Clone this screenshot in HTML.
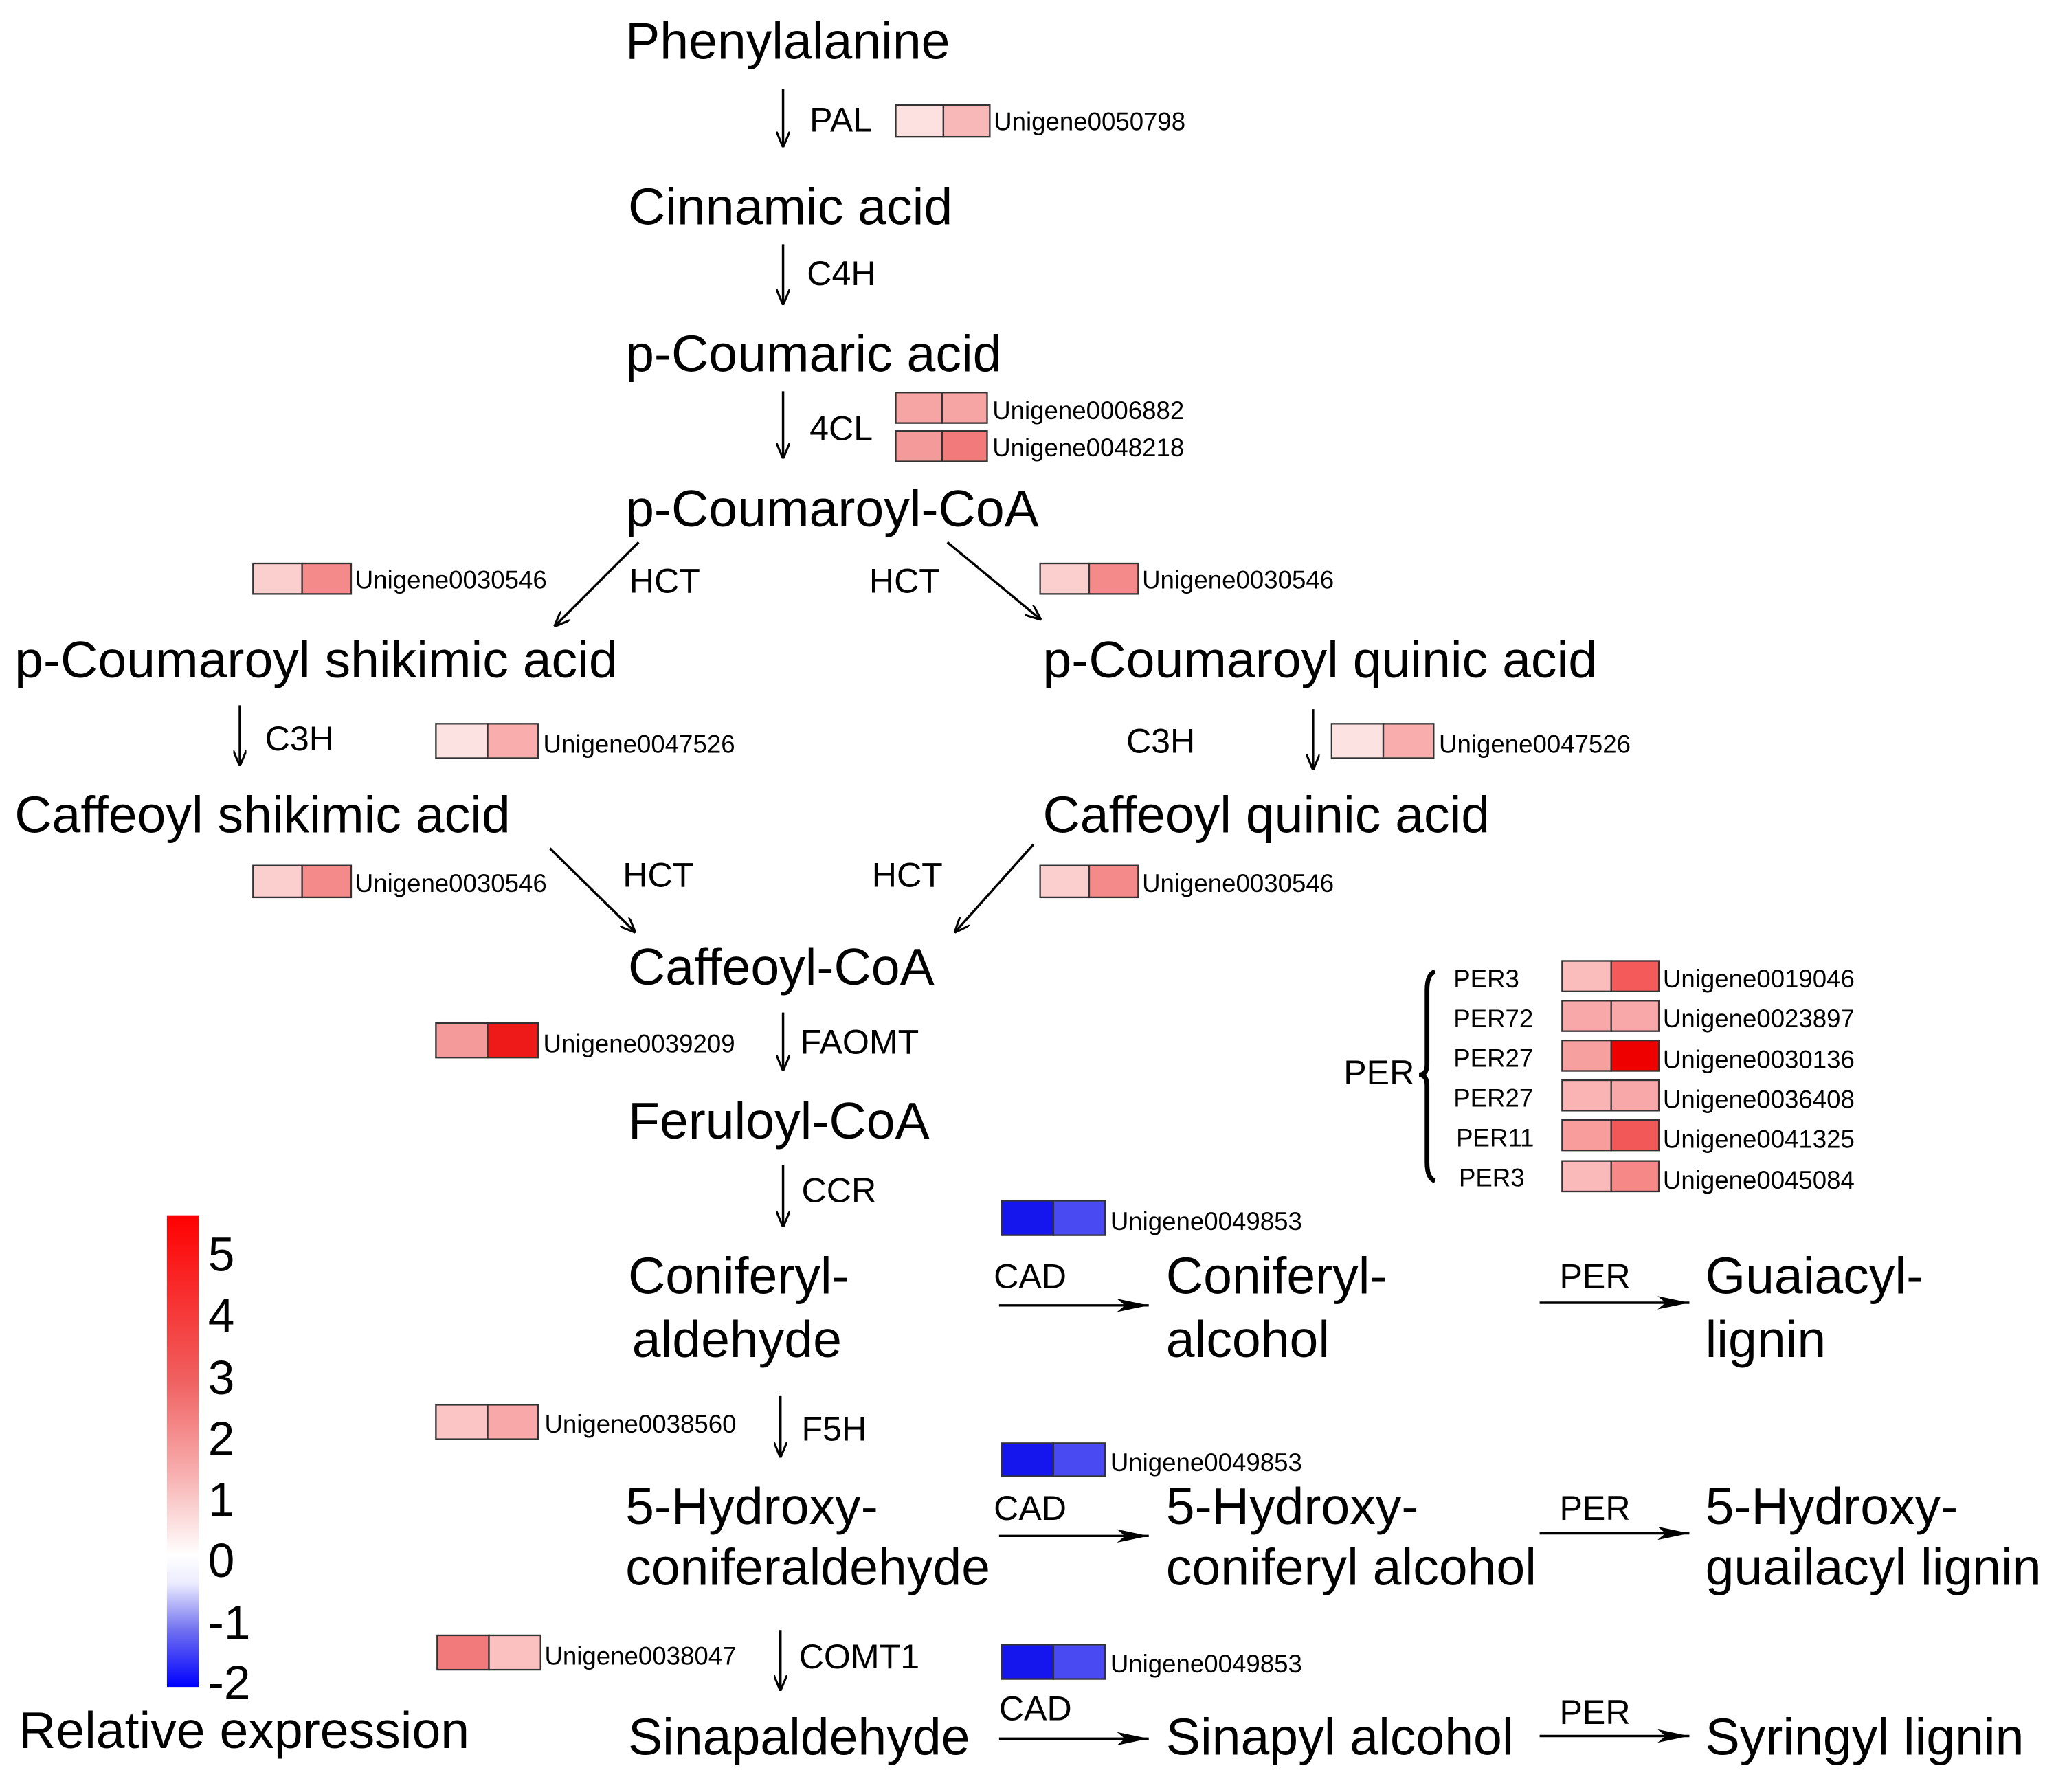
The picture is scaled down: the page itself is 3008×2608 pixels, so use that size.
<!DOCTYPE html>
<html><head><meta charset="utf-8"><style>html,body{margin:0;padding:0;background:#fff}svg{display:block}</style></head><body>
<svg width="3008" height="2608" viewBox="0 0 1560 1352" xmlns="http://www.w3.org/2000/svg" font-family="Liberation Sans, Arial, sans-serif">
<defs>
<marker id="a" viewBox="0 0 12 10" refX="11" refY="5" markerWidth="12" markerHeight="10" markerUnits="userSpaceOnUse" orient="auto"><path d="M0,0 L12,5 L0,10" fill="none" stroke="#000" stroke-width="1.6"/></marker>
<marker id="h" viewBox="0 0 24 10" refX="24" refY="5" markerWidth="24" markerHeight="10" markerUnits="userSpaceOnUse" orient="auto"><path d="M0,0 L24,5 L0,10 L6,5 Z" fill="#000"/></marker>
<linearGradient id="g" x1="0" y1="0" x2="0" y2="1">
<stop offset="0" stop-color="#ff0000"/><stop offset="0.35" stop-color="#f06060"/><stop offset="0.55" stop-color="#f8b0b0"/><stop offset="0.72" stop-color="#ffffff"/><stop offset="0.78" stop-color="#ececff"/><stop offset="0.88" stop-color="#7070f0"/><stop offset="1" stop-color="#0000ff"/></linearGradient>
</defs>
<g transform="translate(-3,-3)">
<g font-size="39" fill="#000">
<text x="475" y="47">Phenylalanine</text>
<text x="477" y="172">Cinnamic acid</text>
<text x="475" y="283">p-Coumaric acid</text>
<text x="475" y="400">p-Coumaroyl-CoA</text>
<text x="14" y="514">p-Coumaroyl shikimic acid</text>
<text x="790" y="514">p-Coumaroyl quinic acid</text>
<text x="14" y="631">Caffeoyl shikimic acid</text>
<text x="790" y="631">Caffeoyl quinic acid</text>
<text x="477" y="746">Caffeoyl-CoA</text>
<text x="477" y="862">Feruloyl-CoA</text>
<text x="477" y="979">Coniferyl-</text><text x="480" y="1027">aldehyde</text>
<text x="883" y="979">Coniferyl-</text><text x="883" y="1027">alcohol</text>
<text x="1290" y="979">Guaiacyl-</text><text x="1290" y="1027">lignin</text>
<text x="475" y="1153">5-Hydroxy-</text><text x="475" y="1199">coniferaldehyde</text>
<text x="883" y="1153">5-Hydroxy-</text><text x="883" y="1199">coniferyl alcohol</text>
<text x="1290" y="1153">5-Hydroxy-</text><text x="1290" y="1199">guailacyl lignin</text>
<text x="477" y="1327">Sinapaldehyde</text>
<text x="883" y="1327">Sinapyl alcohol</text>
<text x="1290" y="1327">Syringyl lignin</text>
<text x="17" y="1322">Relative expression</text>
</g>
<g font-size="26">
<text x="614" y="102">PAL</text><text x="612" y="218">C4H</text><text x="614" y="335">4CL</text>
<text x="478" y="450">HCT</text><text x="659" y="450">HCT</text>
<text x="203" y="569">C3H</text><text x="853" y="571">C3H</text>
<text x="473" y="672">HCT</text><text x="661" y="672">HCT</text>
<text x="607" y="798">FAOMT</text><text x="608" y="910">CCR</text>
<text x="608" y="1090">F5H</text><text x="606" y="1262">COMT1</text>
<text x="753" y="975">CAD</text><text x="1180" y="975">PER</text>
<text x="753" y="1150">CAD</text><text x="1180" y="1150">PER</text>
<text x="757" y="1301">CAD</text><text x="1180" y="1304">PER</text>
<text x="1017" y="821">PER</text>
</g>
<g font-size="19">
<text x="1100" y="748">PER3</text><text x="1100" y="778">PER72</text><text x="1100" y="808">PER27</text>
<text x="1100" y="838">PER27</text><text x="1102" y="868">PER11</text><text x="1104" y="898">PER3</text>
</g>
<g stroke="#000" stroke-width="1.8" fill="none">
<line x1="594" y1="70" x2="594" y2="113" marker-end="url(#a)"/>
<line x1="594" y1="187" x2="594" y2="232" marker-end="url(#a)"/>
<line x1="594" y1="298" x2="594" y2="348" marker-end="url(#a)"/>
<line x1="485" y1="412" x2="422" y2="475" marker-end="url(#a)"/>
<line x1="718" y1="412" x2="788" y2="470" marker-end="url(#a)"/>
<line x1="184" y1="535" x2="184" y2="580" marker-end="url(#a)"/>
<line x1="994" y1="538" x2="994" y2="583" marker-end="url(#a)"/>
<line x1="418" y1="643" x2="482" y2="706" marker-end="url(#a)"/>
<line x1="783" y1="640" x2="724" y2="706" marker-end="url(#a)"/>
<line x1="594" y1="767" x2="594" y2="810" marker-end="url(#a)"/>
<line x1="594" y1="882" x2="594" y2="928" marker-end="url(#a)"/>
<line x1="592" y1="1056" x2="592" y2="1102" marker-end="url(#a)"/>
<line x1="592" y1="1233" x2="592" y2="1278" marker-end="url(#a)"/>
<line x1="757" y1="988" x2="870" y2="988" marker-end="url(#h)"/>
<line x1="1165" y1="986" x2="1278" y2="986" marker-end="url(#h)"/>
<line x1="757" y1="1162" x2="870" y2="1162" marker-end="url(#h)"/>
<line x1="1165" y1="1160" x2="1278" y2="1160" marker-end="url(#h)"/>
<line x1="757" y1="1315" x2="870" y2="1315" marker-end="url(#h)"/>
<line x1="1165" y1="1313" x2="1278" y2="1313" marker-end="url(#h)"/>
<path d="M1086,736 Q1080,738 1080,750 L1080,806 Q1080,814 1074,814 Q1080,814 1080,822 L1080,880 Q1080,892 1086,894" stroke-width="3.5"/>
</g>
<g stroke="#333" stroke-width="1.2">
<rect x="679" y="82" width="36" height="24" fill="#fde0e0"/><rect x="715" y="82" width="35" height="24" fill="#f9b8b8"/>
<rect x="679" y="299" width="35" height="23" fill="#f7a4a4"/><rect x="714" y="299" width="34" height="23" fill="#f7a4a4"/>
<rect x="679" y="328" width="35" height="23" fill="#f59a9a"/><rect x="714" y="328" width="34" height="23" fill="#f27a7a"/>
<rect x="194" y="428" width="37" height="23" fill="#fccfcf"/><rect x="231" y="428" width="37" height="23" fill="#f58a8a"/>
<rect x="788" y="428" width="37" height="23" fill="#fccfcf"/><rect x="825" y="428" width="37" height="23" fill="#f58a8a"/>
<rect x="332" y="549" width="39" height="26" fill="#fde2e2"/><rect x="371" y="549" width="38" height="26" fill="#f9adad"/>
<rect x="1008" y="549" width="39" height="26" fill="#fde2e2"/><rect x="1047" y="549" width="38" height="26" fill="#f9adad"/>
<rect x="194" y="656" width="37" height="24" fill="#fccfcf"/><rect x="231" y="656" width="37" height="24" fill="#f58a8a"/>
<rect x="788" y="656" width="37" height="24" fill="#fccfcf"/><rect x="825" y="656" width="37" height="24" fill="#f58a8a"/>
<rect x="332" y="775" width="39" height="26" fill="#f59a9a"/><rect x="371" y="775" width="38" height="26" fill="#ee1a1a"/>
<rect x="759" y="909" width="39" height="26" fill="#1515ee"/><rect x="798" y="909" width="39" height="26" fill="#4a4af2"/>
<rect x="759" y="1092" width="39" height="25" fill="#1515ee"/><rect x="798" y="1092" width="39" height="25" fill="#4a4af2"/>
<rect x="759" y="1244" width="39" height="26" fill="#1515ee"/><rect x="798" y="1244" width="39" height="26" fill="#4a4af2"/>
<rect x="332" y="1063" width="39" height="26" fill="#fbc5c5"/><rect x="371" y="1063" width="38" height="26" fill="#f8a8a8"/>
<rect x="333" y="1237" width="39" height="26" fill="#f27a7a"/><rect x="372" y="1237" width="39" height="26" fill="#fbc0c0"/>
<rect x="1182" y="728" width="37" height="23" fill="#fbbcbc"/><rect x="1219" y="728" width="36" height="23" fill="#f45a5a"/>
<rect x="1182" y="758" width="37" height="23" fill="#f8a8a8"/><rect x="1219" y="758" width="36" height="23" fill="#f8a8a8"/>
<rect x="1182" y="788" width="37" height="23" fill="#f7a0a0"/><rect x="1219" y="788" width="36" height="23" fill="#ee0000"/>
<rect x="1182" y="818" width="37" height="23" fill="#fab4b4"/><rect x="1219" y="818" width="36" height="23" fill="#f8a8a8"/>
<rect x="1182" y="848" width="37" height="23" fill="#f89c9c"/><rect x="1219" y="848" width="36" height="23" fill="#f25858"/>
<rect x="1182" y="879" width="37" height="23" fill="#fbbaba"/><rect x="1219" y="879" width="36" height="23" fill="#f68888"/>
</g>
<g font-size="19">
<text x="753" y="101">Unigene0050798</text>
<text x="752" y="319">Unigene0006882</text><text x="752" y="347">Unigene0048218</text>
<text x="271" y="447">Unigene0030546</text><text x="865" y="447">Unigene0030546</text>
<text x="413" y="571">Unigene0047526</text><text x="1089" y="571">Unigene0047526</text>
<text x="271" y="676">Unigene0030546</text><text x="865" y="676">Unigene0030546</text>
<text x="413" y="797">Unigene0039209</text>
<text x="841" y="931">Unigene0049853</text><text x="841" y="1113">Unigene0049853</text><text x="841" y="1265">Unigene0049853</text>
<text x="414" y="1084">Unigene0038560</text><text x="414" y="1259">Unigene0038047</text>
<text x="1258" y="748">Unigene0019046</text><text x="1258" y="778">Unigene0023897</text><text x="1258" y="809">Unigene0030136</text>
<text x="1258" y="839">Unigene0036408</text><text x="1258" y="869">Unigene0041325</text><text x="1258" y="900">Unigene0045084</text>
</g>
<rect x="129" y="920" width="24" height="356" fill="url(#g)"/>
<g font-size="36">
<text x="160" y="962">5</text><text x="160" y="1008">4</text><text x="160" y="1055">3</text><text x="160" y="1101">2</text>
<text x="160" y="1147">1</text><text x="160" y="1193">0</text><text x="160" y="1240">-1</text><text x="160" y="1285">-2</text>
</g>
</g>
</svg>
</body></html>
